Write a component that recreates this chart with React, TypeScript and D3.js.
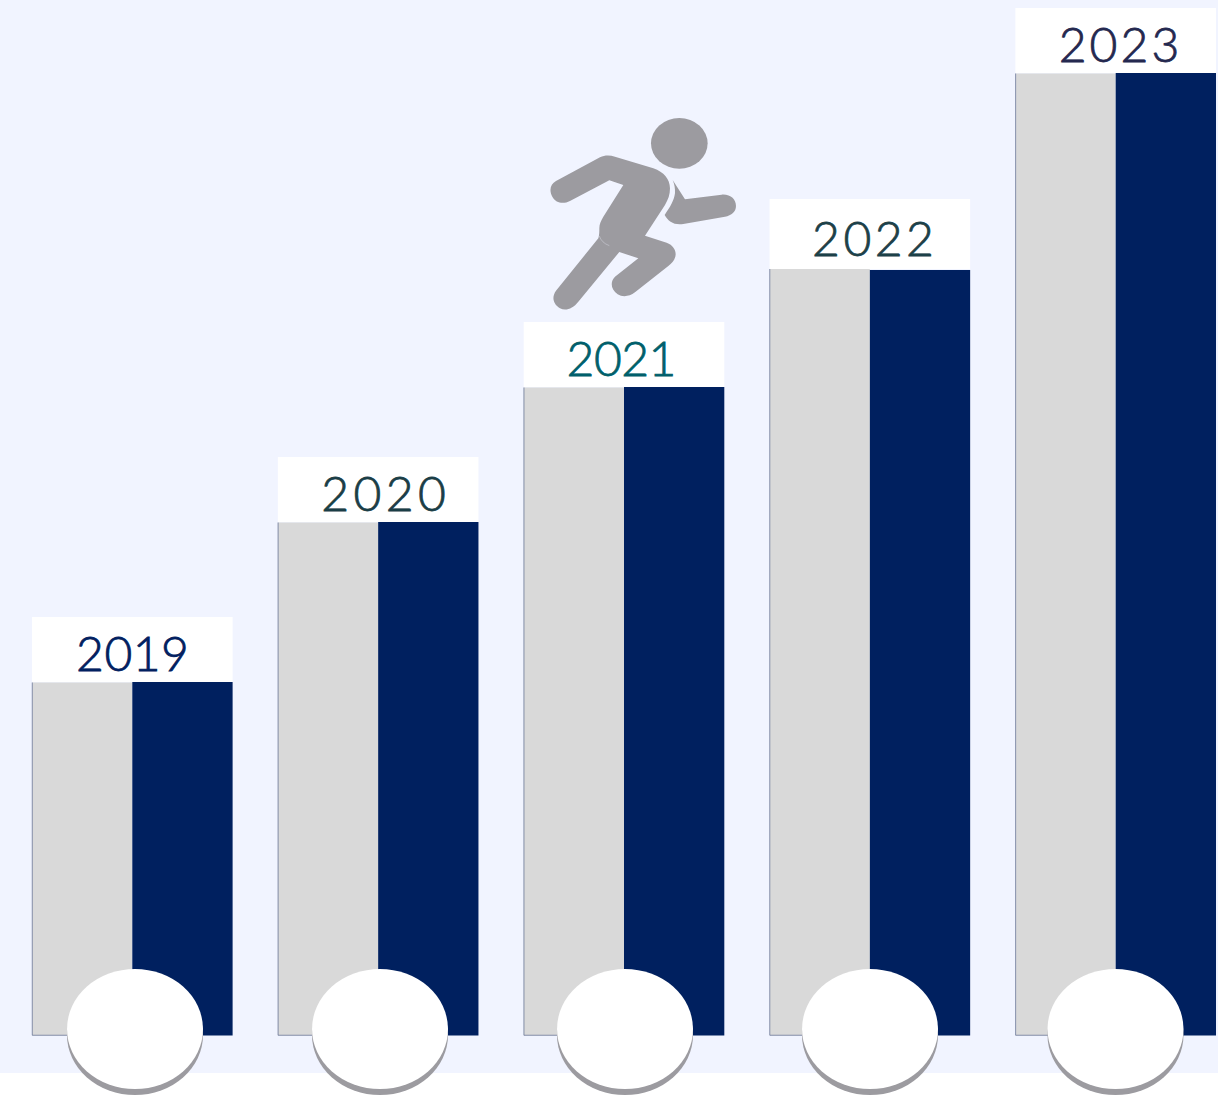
import React from "react";
import * as d3 from "d3";

const years = ["2019", "2020", "2021", "2022", "2023"];
const greyValues = [353, 513, 648, 766.5, 962];
const navyValues = [353.5, 513.5, 648.5, 765.5, 962.5];
const labelHeights = [65, 65, 65, 70, 65];
const labelColors = ["#012060", "#1a3d46", "#005f6b", "#1c4048", "#24284f"];
const labelCentres = [132.5, 383.5, 621.5, 873, 1119];
const labelSpacing = [0.5, 4.4, -0.5, 3.5, 3.1];
const labelBaselineGap = [11.5, 11.5, 11.5, 13, 11.5];
const discCentres = [135, 380, 625, 870, 1115.5];
const series = ["grey", "navy"];

const W = 1218;
const H = 1095;
const baseY = 1035.5;
const BG = "#f1f4ff";
const GREY = "#d9d9d9";
const NAVY = "#00205f";
const ICON = "#9c9ba0";

const TORSO =
  "M108,243 L240,172 C255,165 270,166 285,170 L400,205 C432,216 450,238 450,265 C450,285 445,298 435,315 L375,407 L440,428 C462,436 470,455 466,470 C462,483 455,490 445,498 L345,577 C328,590 308,592 293,583 C272,568 270,545 285,530 L355,475 L298,456 L175,605 C158,626 138,634 120,625 C98,612 95,590 108,572 L235,415 C238,405 238,395 238,385 C238,372 243,362 250,350 L310,255 L268,241 L150,303 C130,313 108,310 97,290 C86,270 92,252 108,243 Z";
const ARM =
  "M458,240 L495,298 L605,284 C632,282 648,298 648,318 C648,335 635,347 615,350 L490,372 C462,376 445,365 434,345 C450,322 462,302 465,280 C466,265 463,252 458,240 Z";
const SEAM = "M238,408 C243,422 252,431 268,437";

export default function App() {
  const x = d3.scaleBand<string>().domain(years).range([32, 1216]).paddingInner(0.184).paddingOuter(0);
  const sub = d3.scaleBand<string>().domain(series).range([0, x.bandwidth()]);
  const y = d3.scaleLinear().domain([0, 1035.5]).range([baseY, 0]);

  return (
    <svg
      width={W}
      height={H}
      viewBox={`0 0 ${W} ${H}`}
      style={{ position: "absolute", left: 0, top: 0, display: "block" }}
    >
      <rect x={0} y={0} width={W} height={H} fill="#ffffff" />
      <rect x={0} y={0} width={W} height={1073} fill={BG} />

      {years.map((yr, i) => {
        const bx = x(yr)!;
        const gTop = y(greyValues[i]);
        const nTop = y(navyValues[i]);
        const gx = bx + sub("grey")!;
        const nx = bx + sub("navy")!;
        const bw = sub.bandwidth();
        const top = Math.min(gTop, nTop);
        return (
          <g key={yr}>
            <rect x={gx} y={gTop} width={bw} height={baseY - gTop} fill={GREY} />
            <rect x={nx} y={nTop} width={bw} height={baseY - nTop} fill={NAVY} />
            <path
              d={`M${gx + 0.25},${gTop} V${baseY - 0.25} H${gx + bw}`}
              fill="none"
              stroke="#5d6b90"
              strokeWidth={0.7}
            />
            <rect x={bx} y={top - labelHeights[i]} width={x.bandwidth()} height={labelHeights[i]} fill="#ffffff" />
            <text
              x={labelCentres[i] + labelSpacing[i] / 2}
              y={top - labelBaselineGap[i]}
              textAnchor="middle"
              fontFamily="Lato, 'Open Sans', sans-serif"
              fontWeight={300}
              fontSize={48}
              letterSpacing={labelSpacing[i]}
              stroke={labelColors[i]}
              strokeWidth={0.8}
              fill={labelColors[i]}
            >
              {yr}
            </text>
            <ellipse cx={discCentres[i]} cy={1035} rx={68} ry={60} fill={ICON} />
            <ellipse cx={discCentres[i]} cy={1029} rx={68} ry={60} fill="#ffffff" />
          </g>
        );
      })}

      <g transform="translate(520,100) scale(0.3333)" fill={ICON}>
        <ellipse cx={478} cy={130} rx={85} ry={76} />
        <path d={TORSO} />
        <path d={ARM} />
        <path d={SEAM} fill="none" stroke={BG} strokeWidth={1} />
      </g>
    </svg>
  );
}
